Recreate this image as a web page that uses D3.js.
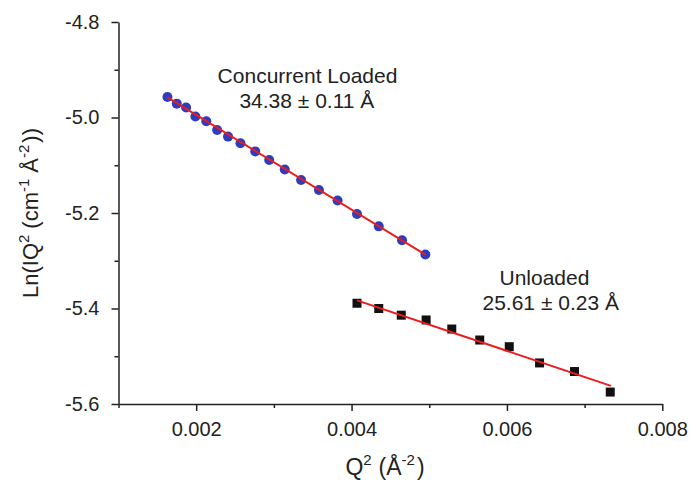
<!DOCTYPE html>
<html>
<head>
<meta charset="utf-8">
<script src="https://cdn.jsdelivr.net/npm/d3@7"></script>
<style>
  body { margin: 0; background: #fff; }
  text { font-family: Arial, "Liberation Sans", sans-serif; fill: #222; }
</style>
</head>
<body>
<script>
// data
const loadedQ2 = [0.00163, 0.00175, 0.00187, 0.00199, 0.00213, 0.00227, 0.00241, 0.00257, 0.00276,
  0.00294, 0.00314, 0.00335, 0.00358, 0.00382, 0.00407, 0.00435, 0.00465, 0.00495];
const loadedLn = [-4.957, -4.971, -4.979, -4.998, -5.008, -5.026, -5.040, -5.054, -5.071,
  -5.089, -5.109, -5.131, -5.152, -5.174, -5.202, -5.228, -5.257, -5.287];

const unloadedQ2 = [0.00407, 0.00435, 0.00464, 0.00496, 0.00529, 0.00565, 0.00603, 0.00642, 0.00687, 0.00733];
const unloadedLn = [-5.389, -5.400, -5.414, -5.424, -5.443, -5.466, -5.480, -5.514, -5.532, -5.575];

// linear fits (end points)
const loadedFitQ2 = [0.00163, 0.00495];
const loadedFitLn = [-4.958, -5.287];
const unloadedFitQ2 = [0.00407, 0.00734];
const unloadedFitLn = [-5.383, -5.562];

const xTicks = [0.002, 0.004, 0.006, 0.008];
const xMinor = [0.001, 0.003, 0.005, 0.007];
const yTicks = [-5.6, -5.4, -5.2, -5.0, -4.8];
const yMinor = [-5.5, -5.3, -5.1, -4.9];

const labelLoaded = ["Concurrent Loaded", "34.38 \u00b1 0.11 \u00c5"];
const labelUnloaded = ["Unloaded", "25.61 \u00b1 0.23 \u00c5"];

//----------------------------------------
const W = 693, H = 484;
const svg = d3.select("body").append("svg")
    .attr("width", W).attr("height", H);

const x = d3.scaleLinear().domain([0.001, 0.008]).range([118.5, 662.3]);
const y = d3.scaleLinear().domain([-5.6, -4.8]).range([404, 22]);

// plain hyphen instead of d3's unicode minus
const fmtY = d => d.toFixed(1);
const fmtX = d => d.toFixed(3);

// axes
const gx = svg.append("g").attr("transform", `translate(0,${y(-5.6)})`)
    .call(d3.axisBottom(x).tickValues(xTicks).tickFormat(fmtX)
        .tickSize(7).tickSizeOuter(0).tickPadding(11));
const gxm = svg.append("g").attr("transform", `translate(0,${y(-5.6)})`)
    .call(d3.axisBottom(x).tickValues(xMinor).tickFormat("").tickSize(4).tickSizeOuter(0));
gxm.select(".domain").remove();

const gy = svg.append("g").attr("transform", `translate(${x(0.001)},0)`)
    .call(d3.axisLeft(y).tickValues(yTicks).tickFormat(fmtY)
        .tickSize(7).tickSizeOuter(0).tickPadding(12));
const gym = svg.append("g").attr("transform", `translate(${x(0.001)},0)`)
    .call(d3.axisLeft(y).tickValues(yMinor).tickFormat("").tickSize(4).tickSizeOuter(0));
gym.select(".domain").remove();

svg.selectAll(".domain, .tick line").attr("stroke", "#222").attr("stroke-width", 1.5);
svg.selectAll(".tick text").style("font-size", "20px").attr("fill", "#222");

// points
svg.append("g").selectAll("circle")
    .data(loadedQ2.map((q, i) => [q, loadedLn[i]]))
    .enter().append("circle")
        .attr("cx", d => x(d[0])).attr("cy", d => y(d[1]))
        .attr("r", 5).attr("fill", "#2e3dbd");

svg.append("g").selectAll("path")
    .data(unloadedQ2.map((q, i) => [q, unloadedLn[i]]))
    .enter().append("path")
        .attr("d", d3.symbol(d3.symbolSquare, 81))
        .attr("transform", d => `translate(${x(d[0])},${y(d[1])})`)
        .attr("fill", "#111");

// fit lines
const line = d3.line().x(d => x(d[0])).y(d => y(d[1]));
[[loadedFitQ2, loadedFitLn], [unloadedFitQ2, unloadedFitLn]].forEach(f => {
  svg.append("path")
      .datum(f[0].map((q, i) => [q, f[1][i]]))
      .attr("d", line)
      .attr("fill", "none").attr("stroke", "#ec1c1c").attr("stroke-width", 2);
});

// annotations
function note(lines, xs, yv) {
  lines.forEach((t, i) => {
    svg.append("text").text(t)
        .attr("x", x(xs[i])).attr("y", y(yv) + i * 25)
        .attr("text-anchor", "middle")
        .style("font-size", "21px");
  });
}
note(labelLoaded, [0.003433, 0.003425], -4.928);
note(labelUnloaded, [0.006483, 0.006564], -5.351);

// axis titles
const xt = svg.append("text").attr("x", 385).attr("y", 475)
    .attr("text-anchor", "middle").style("font-size", "23px");
xt.append("tspan").text("Q");
xt.append("tspan").text("2").attr("dy", -10).style("font-size", "15px");
xt.append("tspan").text("(\u00c5").attr("dy", 10).attr("dx", 7);
xt.append("tspan").text("-2").attr("dy", -10).style("font-size", "15px");
xt.append("tspan").text(")").attr("dy", 10).attr("dx", 2);

const yt = svg.append("text")
    .attr("transform", "translate(38,213) rotate(-90)")
    .attr("text-anchor", "middle").style("font-size", "22px");
yt.append("tspan").text("Ln(IQ");
yt.append("tspan").text("2").attr("dy", -9).style("font-size", "15px");
yt.append("tspan").text("(cm").attr("dy", 9).attr("dx", 6);
yt.append("tspan").text("-1").attr("dy", -9).style("font-size", "15px");
yt.append("tspan").text("\u00c5").attr("dy", 9).attr("dx", 6);
yt.append("tspan").text("-2").attr("dy", -9).style("font-size", "15px");
yt.append("tspan").text("))").attr("dy", 9).attr("dx", 2);
</script>
</body>
</html>
